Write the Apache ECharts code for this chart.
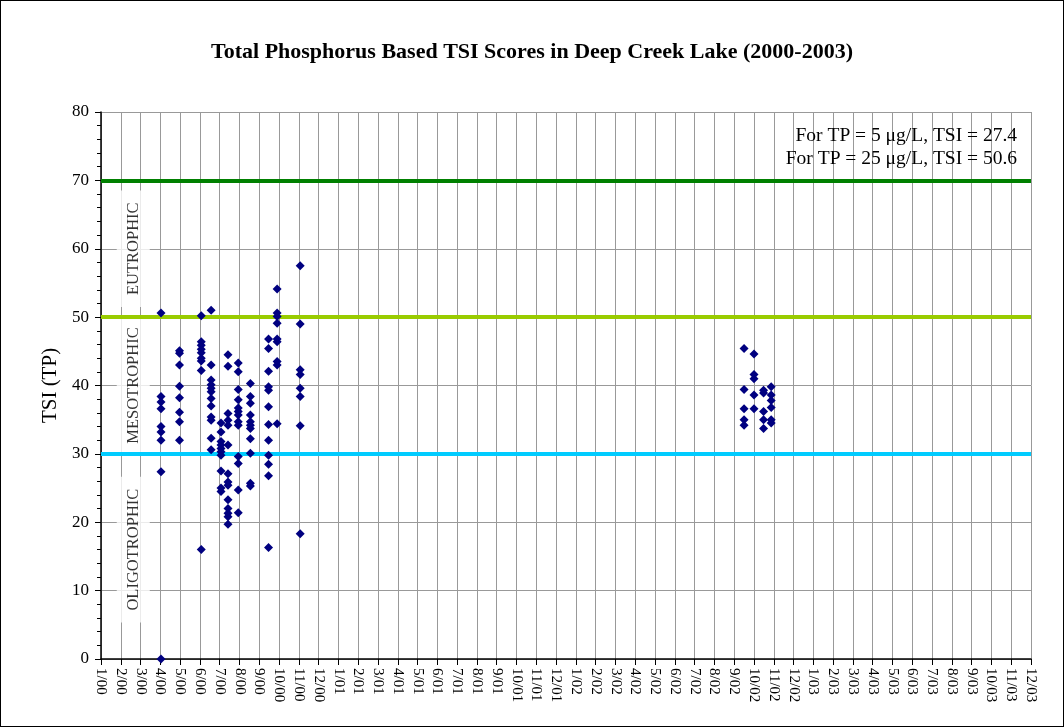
<!DOCTYPE html>
<html>
<head>
<meta charset="utf-8">
<script src="https://cdn.jsdelivr.net/npm/echarts@6/dist/echarts.min.js"></script>
<style>
html,body{margin:0;padding:0;background:#fff;}
#frame{width:1064px;height:727px;box-sizing:border-box;border:1px solid #000;}
#c{width:1062px;height:725px;}
</style>
</head>
<body>
<div id="frame"><div id="c"></div></div>
<script>
// ---- tick labels (one per month, Jan 2000 .. Dec 2003) ----
const monthLabels = [
  '1/00','2/00','3/00','4/00','5/00','6/00','7/00','8/00','9/00','10/00','11/00','12/00',
  '1/01','2/01','3/01','4/01','5/01','6/01','7/01','8/01','9/01','10/01','11/01','12/01',
  '1/02','2/02','3/02','4/02','5/02','6/02','7/02','8/02','9/02','10/02','11/02','12/02',
  '1/03','2/03','3/03','4/03','5/03','6/03','7/03','8/03','9/03','10/03','11/03','12/03'
];
const yTickValues = [0, 10, 20, 30, 40, 50, 60, 70, 80];

// ---- trophic class boundaries (TSI) ----
const trophicBoundaries = [30, 50, 70];
const trophicNames = ['OLIGOTROPHIC', 'MESOTROPHIC', 'EUTROPHIC'];

// ---- sampling dates and TSI(TP) scores ----
const sampleDates = [
  '2000-04-02','2000-04-30','2000-06-03','2000-06-18','2000-07-03','2000-07-14',
  '2000-07-30','2000-08-18','2000-09-15','2000-09-28','2000-11-03',
  '2002-09-16','2002-10-01','2002-10-16','2002-10-28'
];
const tsi_2000_04_02 = [50.6, 38.4, 37.6, 36.6, 34.0, 33.2, 32.0, 27.4, 0.0];
const tsi_2000_04_30 = [45.1, 44.7, 43.0, 39.9, 38.2, 36.1, 34.7, 32.0];
const tsi_2000_06_03 = [50.2, 46.4, 45.9, 45.3, 44.8, 44.0, 43.6, 42.2, 16.0];
const tsi_2000_06_18 = [51.0, 43.0, 40.8, 40.1, 39.6, 39.1, 38.1, 37.0, 35.4, 34.9, 32.3, 30.6];
const tsi_2000_07_03 = [34.5, 33.2, 31.8, 31.3, 30.8, 30.3, 29.8, 27.5, 25.0, 24.5];
const tsi_2000_07_14 = [44.5, 42.8, 35.9, 34.9, 34.2, 31.3, 27.1, 25.9, 25.4, 23.3, 22.0, 21.3, 20.8, 19.7];
const tsi_2000_07_30 = [43.3, 42.0, 39.4, 37.9, 36.7, 36.2, 35.7, 34.7, 34.2, 29.6, 28.6, 24.7, 21.4];
const tsi_2000_08_18 = [40.3, 38.4, 37.4, 35.7, 34.7, 34.2, 33.7, 32.2, 30.1, 25.7, 25.3];
const tsi_2000_09_15 = [46.8, 45.4, 42.1, 39.8, 39.3, 36.9, 34.3, 32.0, 29.8, 28.5, 26.8, 16.3];
const tsi_2000_09_28 = [54.1, 50.6, 50.1, 49.1, 46.8, 46.4, 43.5, 43.0, 34.4];
const tsi_2000_11_03 = [57.5, 49.0, 42.3, 41.6, 39.6, 38.4, 34.1, 18.3];
const tsi_2002_09_16 = [45.4, 39.4, 36.6, 35.0, 34.2];
const tsi_2002_10_01 = [44.6, 41.6, 41.0, 38.6, 36.6];
const tsi_2002_10_16 = [39.3, 38.9, 36.2, 35.0, 33.7];
const tsi_2002_10_28 = [39.8, 38.6, 37.8, 36.8, 35.0, 34.5];

const tsiByDate = [
  tsi_2000_04_02, tsi_2000_04_30, tsi_2000_06_03, tsi_2000_06_18, tsi_2000_07_03,
  tsi_2000_07_14, tsi_2000_07_30, tsi_2000_08_18, tsi_2000_09_15, tsi_2000_09_28,
  tsi_2000_11_03, tsi_2002_09_16, tsi_2002_10_01, tsi_2002_10_16, tsi_2002_10_28
];

const noteLines = ['For TP = 5 \u03bcg/L, TSI = 27.4', 'For TP = 25 \u03bcg/L, TSI = 50.6'];

// date -> fractional month index (0 = start of Jan 2000)
function monthIndex(s) {
  const p = s.split('-').map(Number);
  const dim = new Date(p[0], p[1], 0).getDate();
  return (p[0] - 2000) * 12 + (p[1] - 1) + (p[2] - 1) / dim;
}

const points = [];
sampleDates.forEach((d, i) => {
  const x = monthIndex(d);
  tsiByDate[i].forEach(v => points.push([x, v]));
});

// zone label placement (between boundaries)
const zoneCentres = [16, 40, 60];
const zoneData = trophicNames.map((n, i) => ({ name: n, value: [1.63, zoneCentres[i]] }));

const boundaryColors = ['#00CCFF', '#99CC00', '#008000'];

const SERIF = '"Liberation Serif", "Times New Roman", serif';

const chart = echarts.init(document.getElementById('c'), null, { renderer: 'canvas' });
chart.setOption({
  backgroundColor: '#fff',
  animation: false,
  title: {
    text: 'Total Phosphorus Based TSI Scores in Deep Creek Lake (2000-2003)',
    left: 'center',
    top: 35,
    textStyle: { fontFamily: SERIF, fontWeight: 'bold', fontSize: 22, color: '#000' }
  },
  grid: { left: 100, right: 32, top: 111, bottom: 67, containLabel: false },
  xAxis: {
    type: 'value',
    min: 0,
    max: monthLabels.length - 1,
    interval: 1,
    axisLine: { show: true, onZero: false, lineStyle: { color: '#000', width: 1.5 } },
    axisTick: { show: true, length: 6, lineStyle: { color: '#000' } },
    axisLabel: {
      rotate: -90,
      margin: 9,
      fontFamily: SERIF,
      fontSize: 15,
      color: '#000',
      formatter: v => monthLabels[Math.round(v)] || ''
    },
    splitLine: { show: true, lineStyle: { color: '#999', width: 1 } }
  },
  yAxis: {
    type: 'value',
    min: yTickValues[0],
    max: yTickValues[yTickValues.length - 1],
    interval: 10,
    name: 'TSI (TP)',
    nameLocation: 'middle',
    nameGap: 40,
    nameTextStyle: { fontFamily: SERIF, fontSize: 21, color: '#000' },
    axisLine: { show: true, lineStyle: { color: '#000', width: 1.5 } },
    axisTick: { show: true, length: 6, lineStyle: { color: '#000' } },
    minorTick: { show: true, splitNumber: 5, length: 4, lineStyle: { color: '#000' } },
    axisLabel: { margin: 12, fontFamily: SERIF, fontSize: 17, color: '#000' },
    splitLine: { show: true, lineStyle: { color: '#999', width: 1 } }
  },
  graphic: [{
    type: 'text',
    x: 1016,
    y: 123,
    z: 100,
    style: {
      text: noteLines.join('\n'),
      align: 'right',
      verticalAlign: 'top',
      lineHeight: 23,
      font: '19.5px ' + SERIF,
      fill: '#000'
    }
  }],
  series: [
    {
      name: 'zones',
      type: 'scatter',
      z: 2,
      silent: true,
      symbolSize: 0,
      data: zoneData,
      label: {
        show: true,
        position: 'inside',
        rotate: 90,
        formatter: '{b}',
        fontFamily: SERIF,
        fontSize: 16.5,
        color: '#000',
        backgroundColor: '#fff',
        padding: [8, 12]
      }
    },
    {
      name: 'boundaries',
      type: 'scatter',
      z: 5,
      silent: true,
      data: [],
      markLine: {
        silent: true,
        symbol: ['none', 'none'],
        label: { show: false },
        animation: false,
        data: trophicBoundaries.map((b, i) => ({
          yAxis: b,
          lineStyle: { color: boundaryColors[i], width: 4, type: 'solid' }
        }))
      }
    },
    {
      name: 'TSI (TP)',
      type: 'scatter',
      z: 6,
      symbol: 'diamond',
      symbolSize: 9,
      itemStyle: { color: '#000080', opacity: 1 },
      data: points
    }
  ]
});
</script>
</body>
</html>
